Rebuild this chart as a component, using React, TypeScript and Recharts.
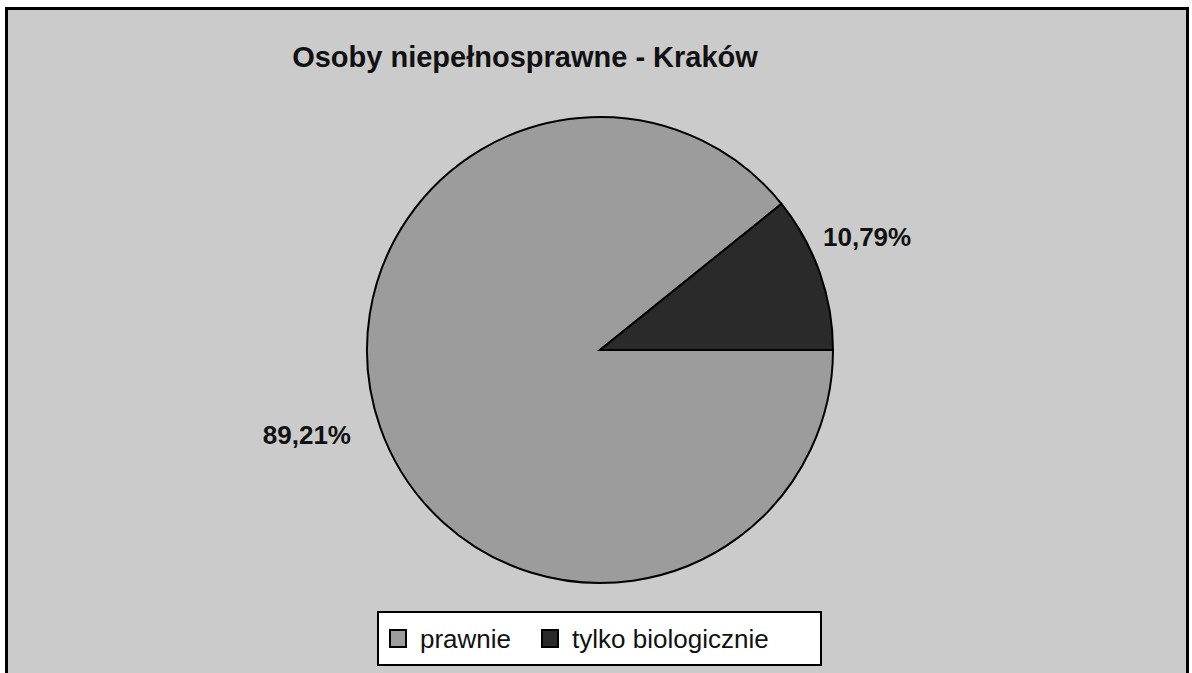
import { Pie, PieChart, Cell, Legend } from 'recharts';

const categories = ['prawnie', 'tylko biologicznie'];
const shares = [89.21, 10.79];
const percentLabels = ['89,21%', '10,79%'];

const sliceColors = ['#9c9c9c', '#2a2a2a'];

const chartData = categories.map((name, i) => ({
  name,
  value: shares[i],
  label: percentLabels[i],
  color: sliceColors[i],
}));

const RAD = Math.PI / 180;
// tylko biologicznie starts at 3 o'clock and runs counter-clockwise
const startAngle = (shares[1] / 100) * 360;

const renderLabel = (props: any) => {
  const { cx, cy, midAngle, outerRadius, index } = props;
  const r = outerRadius + 64;
  const x = cx + r * Math.cos(-midAngle * RAD) - 13;
  const y = cy + r * Math.sin(-midAngle * RAD) - 14;
  return (
    <text
      x={x}
      y={y}
      textAnchor="middle"
      dominantBaseline="central"
      fontFamily="'Liberation Sans', Arial, sans-serif"
      fontWeight="bold"
      fontSize={26}
      fill="#111"
    >
      {chartData[index].label}
    </text>
  );
};

const LegendBox = (props: any) => {
  const items = props.payload || [];
  return (
    <div style={{ display: 'flex', alignItems: 'center', height: '100%', paddingLeft: 10 }}>
      {items.map((item: any, i: number) => (
        <div key={item.value} style={{ display: 'flex', alignItems: 'center', marginRight: i === 0 ? 30 : 0 }}>
          <span
            style={{
              display: 'inline-block',
              width: 14,
              height: 15,
              background: chartData[i].color,
              border: '2px solid #000',
              marginRight: 13,
            }}
          />
          <span style={{ fontSize: 26, color: '#111', lineHeight: '26px' }}>{item.value}</span>
        </div>
      ))}
    </div>
  );
};

export default function App() {
  return (
    <div
      style={{
        position: 'absolute',
        left: 0,
        top: 0,
        width: 1192,
        height: 673,
        overflow: 'hidden',
        background: '#fff',
        fontFamily: "'Liberation Sans', Arial, sans-serif",
      }}
    >
      <div
        style={{
          position: 'absolute',
          left: 5,
          top: 7,
          width: 1184,
          height: 672,
          boxSizing: 'border-box',
          border: '3px solid #000',
          background: '#cbcbcb',
        }}
      />
      <div
        style={{
          position: 'absolute',
          left: 0,
          top: 40,
          width: 1050,
          textAlign: 'center',
          fontSize: 29,
          fontWeight: 'bold',
          color: '#111',
          lineHeight: '34px',
        }}
      >
        Osoby niepełnosprawne - Kraków
      </div>
      <div style={{ position: 'absolute', left: 0, top: 0 }}>
        <PieChart width={1192} height={673}>
          <Pie
            data={chartData}
            dataKey="value"
            nameKey="name"
            cx={595}
            cy={345}
            outerRadius={233}
            startAngle={startAngle}
            endAngle={startAngle + 360}
            stroke="#000"
            strokeWidth={2}
            label={renderLabel}
            labelLine={false}
            isAnimationActive={false}
          >
            {chartData.map((entry) => (
              <Cell key={entry.name} fill={entry.color} />
            ))}
          </Pie>
          <Legend
            content={<LegendBox />}
            wrapperStyle={{
              position: 'absolute',
              left: 377,
              top: 611,
              width: 445,
              height: 55,
              boxSizing: 'border-box',
              background: '#fff',
              border: '2px solid #000',
            }}
          />
        </PieChart>
      </div>
    </div>
  );
}
